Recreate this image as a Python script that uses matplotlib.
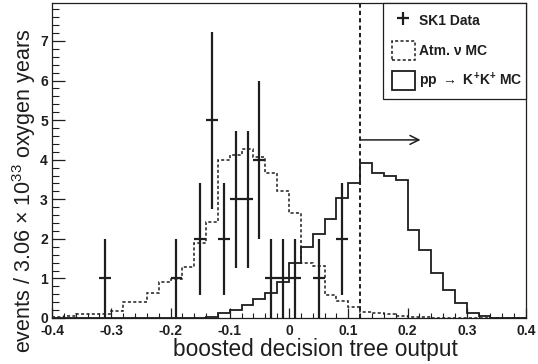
import numpy as np
import matplotlib
matplotlib.use("Agg")
import matplotlib.pyplot as plt
from matplotlib.patches import Patch
from matplotlib.ticker import MultipleLocator
from matplotlib.legend_handler import HandlerErrorbar

plt.rcParams['font.family'] = ['Liberation Sans', 'DejaVu Sans']
plt.rcParams['mathtext.fontset'] = 'custom'
plt.rcParams['mathtext.rm'] = 'Liberation Sans'
plt.rcParams['mathtext.bf'] = 'Liberation Sans:bold'

# bin edges, 0.02 wide
edges = np.round(np.arange(-0.40, 0.4001, 0.02), 2)

# Atm. nu MC (dashed histogram), one value per bin
atm_mc = [0.03, 0.05, 0.09, 0.09, 0.10, 0.18, 0.41, 0.41, 0.64, 0.91,
          0.98, 1.28, 1.90, 2.42, 3.99, 4.13, 4.26, 4.06, 3.67, 3.22,
          2.66, 1.38, 1.31, 0.59, 0.44, 0.29, 0.15, 0.13, 0.09, 0.06,
          0.03, 0.02, 0.01, 0.01, 0.01, 0.0, 0.0, 0.0, 0.0, 0.0]

# pp -> K+K+ MC (solid histogram)
kk_mc = [0.0, 0.0, 0.0, 0.0, 0.0, 0.0, 0.0, 0.0, 0.0, 0.0,
         0.0, 0.0, 0.0, 0.03, 0.12, 0.20, 0.32, 0.49, 0.63, 0.92,
         1.40, 1.79, 2.12, 2.49, 3.02, 3.42, 3.92, 3.66, 3.59, 3.48,
         2.22, 1.72, 1.14, 0.71, 0.37, 0.12, 0.06, 0.0, 0.0, 0.0]

# SK1 data points
data_x = [-0.31, -0.19, -0.15, -0.13, -0.11, -0.09, -0.07, -0.05,
          -0.03, -0.01, 0.01, 0.05, 0.09]
data_n = [1, 1, 2, 5, 2, 3, 3, 4, 1, 1, 1, 1, 2]

cut = 0.12
ink = '#1e1e1e'

fig = plt.figure(figsize=(5.38, 3.64), dpi=100)
ax = fig.add_axes([0.0967, 0.1264, 0.881, 0.8654])

ax.stairs(atm_mc, edges, baseline=None, color=ink, lw=1.1, ls=(0, (2, 1.5)))
ax.stairs(kk_mc, edges, baseline=None, color=ink, lw=1.3)
eb = ax.errorbar(data_x, data_n, xerr=0.01, yerr=np.sqrt(data_n), fmt='none',
                 ecolor=ink, elinewidth=1.6, capsize=0)

ax.axvline(cut, color=ink, lw=1.4, ls=(0, (2.2, 1.6)))
ax.annotate('', xy=(0.222, 4.5), xytext=(cut, 4.5),
            arrowprops=dict(arrowstyle='->', color=ink, lw=1.1,
                            mutation_scale=16, shrinkA=0, shrinkB=0))

ax.set_xlim(-0.4, 0.4)
ax.set_ylim(0, 7.96)
ax.xaxis.set_major_locator(MultipleLocator(0.1))
ax.xaxis.set_minor_locator(MultipleLocator(0.02))
ax.yaxis.set_major_locator(MultipleLocator(1))
ax.yaxis.set_minor_locator(MultipleLocator(0.2))
ax.set_xticks(np.round(np.arange(-0.4, 0.41, 0.1), 1))
ax.set_xticklabels(['-0.4', '-0.3', '-0.2', '-0.1', '0', '0.1', '0.2', '0.3', '0.4'])
ax.tick_params(which='both', direction='in', colors=ink, top=False, right=False)
ax.tick_params(axis='x', which='major', length=7, width=0.9, pad=4)
ax.tick_params(axis='x', which='minor', length=3.5, width=0.8)
ax.tick_params(axis='y', which='major', length=9, width=0.9, pad=3)
ax.tick_params(axis='y', which='minor', length=5, width=0.8)
for lab in ax.get_xticklabels() + ax.get_yticklabels():
    lab.set_fontweight('bold')
    lab.set_fontsize(10)
for sp in ax.spines.values():
    sp.set_color(ink)
    sp.set_linewidth(0.9)

ax.set_xlabel('boosted decision tree output', fontsize=16.3, color=ink)
ax.xaxis.set_label_coords(0.556, -0.121)
ax.xaxis.label.set_va('baseline')
ax.set_ylabel(r'events / 3.06 $\times$ 10$^{33}$ oxygen years', fontsize=15.5, color=ink)
ax.yaxis.set_label_coords(-0.059, 0.403)
ax.yaxis.label.set_va('center')

handles = [eb,
           Patch(facecolor='none', edgecolor=ink, lw=1.1, ls=(0, (2, 1.5))),
           Patch(facecolor='none', edgecolor=ink, lw=1.3)]
labels = ['SK1 Data', 'Atm. ν MC', r'pp $\rightarrow$ K$^{\mathbf{+}}$K$^{\mathbf{+}}$ MC']
leg = ax.legend(handles, labels, loc='upper left',
                bbox_to_anchor=(0.699, 0.70, 0.301, 0.30), mode='expand',
                borderaxespad=0, fancybox=False, framealpha=1,
                edgecolor=ink, prop={'weight': 'bold', 'size': 10},
                handlelength=1.65, handleheight=1.75, handletextpad=0.3,
                labelspacing=0.75, borderpad=0.6,
                handler_map={type(eb): HandlerErrorbar(xerr_size=0.45)})
leg.get_frame().set_linewidth(0.9)
for t in leg.get_texts():
    t.set_color(ink)

fig.savefig('out.png', dpi=100)
